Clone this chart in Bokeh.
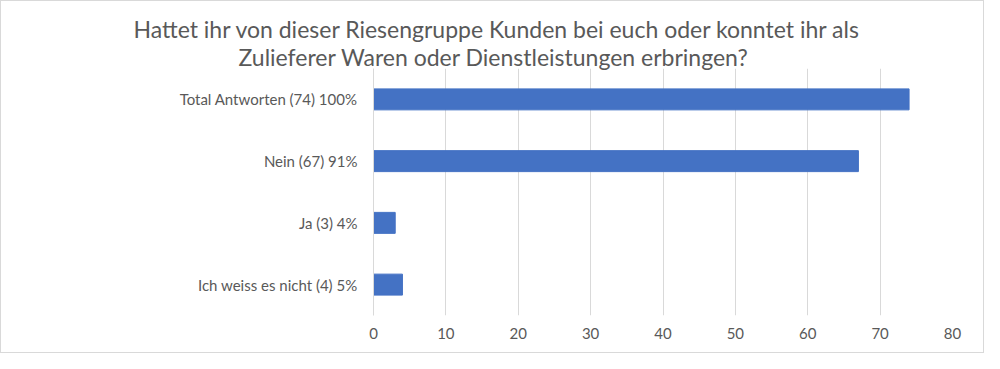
from bokeh.plotting import figure
from bokeh.models import Range1d, FactorRange, Title, FixedTicker
from bokeh.embed import file_html
from bokeh.resources import INLINE

categories = ["Total Antworten (74) 100%", "Nein (67) 91%", "Ja (3) 4%", "Ich weiss es nicht (4) 5%"]
values = [74, 67, 3, 4]
x_ticks = [0, 10, 20, 30, 40, 50, 60, 70, 80]
title_lines = ["Hattet ihr von dieser Riesengruppe Kunden bei euch oder konntet ihr als",
               "Zulieferer Waren oder Dienstleistungen erbringen?"]
title_offsets = [-240, -135]
title_standoffs = [0, -4]

FONT = "Lato"
GREY = "#595959"

p = figure(width=984, height=353, output_backend="svg", toolbar_location=None,
           y_range=FactorRange(factors=list(reversed(categories))),
           x_range=Range1d(0, 80),
           min_border_left=372, min_border_right=33, min_border_top=67, min_border_bottom=39)
p.title = None

p.hbar(y=categories, right=values, left=0, height=0.34, color="#4472C4")

p.outline_line_color = None
p.ygrid.grid_line_color = None
p.xgrid.grid_line_color = "#D9D9D9"
p.xaxis.ticker = FixedTicker(ticks=x_ticks)
p.xaxis.axis_line_color = None
p.xaxis.major_tick_line_color = None
p.xaxis.minor_tick_line_color = None
p.xaxis.major_label_text_font = FONT
p.xaxis.major_label_text_font_size = "15px"
p.xaxis.major_label_text_color = GREY
p.xaxis.major_label_standoff = 6

p.yaxis.axis_line_color = "#D9D9D9"
p.yaxis.major_tick_line_color = None
p.yaxis.minor_tick_line_color = None
p.yaxis.major_label_text_font = FONT
p.yaxis.major_label_text_font_size = "15px"
p.yaxis.major_label_text_color = GREY
p.yaxis.major_label_standoff = 10

# add bottom line first; last added goes on top
for txt, off, so in reversed(list(zip(title_lines, title_offsets, title_standoffs))):
    p.add_layout(Title(text=txt, align="left", offset=off, text_font=FONT,
                       text_font_size="23px", text_font_style="normal",
                       text_color=GREY, standoff=so), "above")

p.styles = {"border": "1px solid #D9D9D9"}

open("out.html", "w").write(file_html(p, INLINE))
